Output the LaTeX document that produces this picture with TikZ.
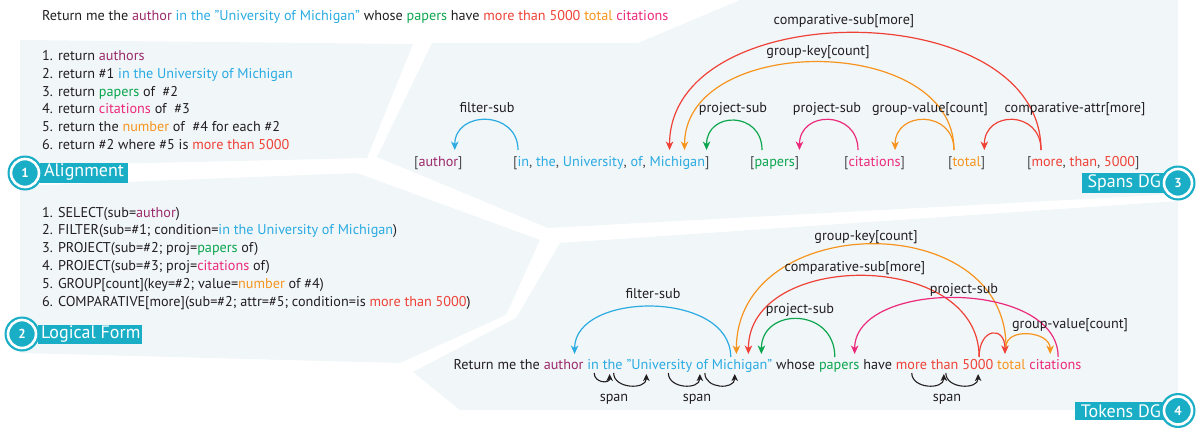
\documentclass[tikz,border=0pt]{standalone}
\usepackage{fontspec}
\setmainfont{PT Sans}
\usetikzlibrary{arrows.meta,calc}
\definecolor{cAuth}{HTML}{9C2A6B}
\definecolor{cBlue}{HTML}{2AABE2}
\definecolor{cGreen}{HTML}{0BA64E}
\definecolor{cPink}{HTML}{EC2A7B}
\definecolor{cOrange}{HTML}{F7941D}
\definecolor{cRed}{HTML}{EF4136}
\definecolor{cTeal}{HTML}{1AAEC6}
\definecolor{cBg}{HTML}{F1F6F9}
\definecolor{cInk}{HTML}{231F20}
\definecolor{cBr}{HTML}{4D4D4F}
\newcommand{\fs}{\fontsize{14.2}{16}\selectfont}
\newcommand{\cA}[1]{\textcolor{cAuth}{#1}}
\newcommand{\cB}[1]{\textcolor{cBlue}{#1}}
\newcommand{\cG}[1]{\textcolor{cGreen}{#1}}
\newcommand{\cP}[1]{\textcolor{cPink}{#1}}
\newcommand{\cO}[1]{\textcolor{cOrange}{#1}}
\newcommand{\cR}[1]{\textcolor{cRed}{#1}}
\newcommand{\br}[1]{\textcolor{cBr}{#1}}
\begin{document}
\begin{tikzpicture}[x=1pt,y=-1pt,
  txt/.style={anchor=base west, inner sep=0, font=\fs, text=cInk},
  lbl/.style={anchor=base, inner sep=0, font=\fs, text=cInk},
  panel/.style={fill=cBg, draw=none},
  arc/.style={line width=1.2pt, -{Stealth[length=8.5pt,width=7.5pt,inset=2.5pt]}},
  spanarc/.style={cInk, line width=1.1pt, -{Stealth[length=7pt,width=6.5pt,inset=2pt]}},
  badgebar/.style={fill=cTeal, draw=none},
  badgetext/.style={inner sep=0, font=\fontsize{18}{20}\selectfont, text=white},
  badgenum/.style={circle, fill=cTeal, inner sep=0, minimum size=23pt, font=\fontsize{13}{14}\selectfont\bfseries, text=white},
  badgering/.style={circle, fill=cTeal, draw=white, line width=2.6pt, inner sep=0, minimum size=28pt}
]
\useasboundingbox (0,0) rectangle (1199,428);
% panels
\fill[panel] (20,40) -- (413,44) -- (367,158) -- (20,166) -- cycle;
\fill[panel] (20,186) -- (357,173) -- (540,240) -- (506,315) -- (400,363) -- (20,353) -- cycle;
\fill[panel] (432,43) -- (638,43) -- (740,0) -- (1178,0) -- (1178,194) -- (548,228) -- (377,157) -- cycle;
\fill[panel] (560,243) -- (1178,201) -- (1178,410) -- (460,410) -- (413,372) -- (516,318) -- cycle;

% question
\node[txt] (q) at (42,21) {Return me the \cA{author} \cB{in the "University of Michigan"} whose \cG{papers} have \cR{more than 5000} \cO{total} \cP{citations}};

% alignment
\node[txt] (a1) at (42,61) {1. return \cA{authors}};
\node[txt] (a2) at (42,78.6) {2. return \#1 \cB{in the University of Michigan}};
\node[txt] (a3) at (42,96.2) {3. return \cG{papers} of~~\#2};
\node[txt] (a4) at (42,113.8) {4. return \cP{citations} of~~\#3};
\node[txt] (a5) at (42,131.4) {5. return the \cO{number} of~~\#4 for each \#2};
\node[txt] (a6) at (42,149) {6. return \#2 where \#5 is \cR{more than 5000}};

% logical form
\node[txt] (l1) at (42,217) {1. SELECT(sub=\cA{author})};
\node[txt] (l2) at (42,234.8) {2. FILTER(sub=\#1; condition=\cB{in the University of Michigan})};
\node[txt] (l3) at (42,252.6) {3. PROJECT(sub=\#2; proj=\cG{papers} of)};
\node[txt] (l4) at (42,270.4) {4. PROJECT(sub=\#3; proj=\cP{citations} of)};
\node[txt] (l5) at (42,288.2) {5. GROUP[count](key=\#2; value=\cO{number} of \#4)};
\node[txt] (l6) at (42,306) {6. COMPARATIVE[more](sub=\#2; attr=\#5; condition=is \cR{more than 5000})};

% spans DG
\node[txt] (s1) at (414,166) {\br{[}\cA{author}\br{]}};
\node[txt] (s2) at (513,166) {\br{[}\cB{in}\br{,} \cB{the}\br{,} \cB{University}\br{,} \cB{of}\br{,} \cB{Michigan}\br{]}};
\node[txt] (s3) at (750,166) {\br{[}\cG{papers}\br{]}};
\node[txt] (s4) at (844,166) {\br{[}\cP{citations}\br{]}};
\node[txt] (s5) at (948,166) {\br{[}\cO{total}\br{]}};
\node[txt] (s6) at (1027,166) {\br{[}\cR{more}\br{,} \cR{than}\br{,} \cR{5000}\br{]}};

\draw[arc,cBlue] ($(s2.base west)+(5,-16)$) .. controls +(0,-40) and +(0,-40) .. ($(s1.base east)+(-8,-16)$);
\draw[arc,cGreen] ($(s3.base west)+(12,-16)$) .. controls +(0,-39) and +(0,-39) .. ($(s2.base east)+(-3,-16)$);
\draw[arc,cPink] ($(s4.base west)+(14,-16)$) .. controls +(0,-40) and +(0,-40) .. ($(s3.base east)+(0,-16)$);
\draw[arc,cOrange] ($(s5.base west)+(6,-16)$) .. controls +(0,-40) and +(0,-40) .. ($(s4.base east)+(-10,-16)$);
\draw[arc,cRed] ($(s6.base west)+(14,-16)$) .. controls +(0,-40) and +(0,-40) .. ($(s5.base east)+(-1,-16)$);
\draw[arc,cOrange] ($(s5.base west)+(6,-16)$) .. controls +(0,-117) and +(0,-117) .. ($(s2.base east)+(-25,-16)$);
\draw[arc,cRed] ($(s6.base west)+(14,-16)$) .. controls +(0,-156) and +(0,-156) .. ($(s2.base east)+(-40,-16)$);

\node[lbl] (ls1) at (487,112) {filter-sub};
\node[lbl] (ls2) at (733,112) {project-sub};
\node[lbl] (ls3) at (827,112) {project-sub};
\node[lbl] (ls4) at (930,112) {group-value[count]};
\node[lbl] (ls5) at (1075,112) {comparative-attr[more]};
\node[lbl] (ls6) at (818,56) {group-key[count]};
\node[lbl] (ls7) at (844,25) {comparative-sub[more]};

% tokens DG
\node[txt] (t1) at (453.5,369) {Return me the};
\node[txt] (t2) at ($(t1.base east)+(3.5,0)$) {\cA{author}};
\node[txt] (t3) at ($(t2.base east)+(3.5,0)$) {\cB{in}};
\node[txt] (t4) at ($(t3.base east)+(3.5,0)$) {\cB{the}};
\node[txt] (t5) at ($(t4.base east)+(3.5,0)$) {\cB{"University}};
\node[txt] (t6) at ($(t5.base east)+(3.5,0)$) {\cB{of}};
\node[txt] (t7) at ($(t6.base east)+(3.5,0)$) {\cB{Michigan"}};
\node[txt] (t8) at ($(t7.base east)+(3.5,0)$) {whose};
\node[txt] (t9) at ($(t8.base east)+(3.5,0)$) {\cG{papers}};
\node[txt] (t10) at ($(t9.base east)+(3.5,0)$) {have};
\node[txt] (t11) at ($(t10.base east)+(3.5,0)$) {\cR{more}};
\node[txt] (t12) at ($(t11.base east)+(3.5,0)$) {\cR{than}};
\node[txt] (t13) at ($(t12.base east)+(3.5,0)$) {\cR{5000}};
\node[txt] (t14) at ($(t13.base east)+(3.5,0)$) {\cO{total}};
\node[txt] (t15) at ($(t14.base east)+(3.5,0)$) {\cP{citations}};

\draw[arc,cBlue] ($(t7.base west)+(19,-12)$) .. controls +(0,-67) and +(0,-63) .. ($(t2.base west)+(31,-15)$);
\draw[arc,cOrange] ($(t14.base west)+(9,-22)$) .. controls +(0,-140) and +(0,-143) .. ($(t7.base east)+(-36,-15)$);
\draw[arc,cRed] ($(t13.base west)+(17,-12)$) .. controls +(0,-108) and +(0,-104) .. ($(t7.base east)+(-24,-15)$);
\draw[arc,cGreen] ($(t9.base west)+(16,-12)$) .. controls +(0,-50) and +(0,-47) .. ($(t7.base east)+(-11,-15)$);
\draw[arc,cPink] ($(t15.base west)+(29,-12)$) .. controls +(0,-78) and +(0,-75) .. ($(t9.base east)+(-5,-15)$);
\draw[arc,cOrange] ($(t14.base west)+(9,-22)$) .. controls +(0,-20) and +(0,-23) .. ($(t15.base west)+(21,-15)$);
\draw[arc,cRed] ($(t13.base west)+(17,-12)$) .. controls +(0,-29) and +(0,-29) .. ($(t14.base west)+(8,-15)$);

\draw[spanarc] ($(t3.base west)+(7,4)$) .. controls +(0,10) and +(0,10) .. ($(t4.base west)+(7,5)$);
\draw[spanarc] ($(t4.base west)+(11,4)$) .. controls +(0,16) and +(0,16) .. ($(t5.base west)+(20,5)$);
\draw[spanarc] ($(t5.base west)+(42,4)$) .. controls +(0,16) and +(0,16) .. ($(t6.base west)+(4,5)$);
\draw[spanarc] ($(t6.base west)+(9,4)$) .. controls +(0,16) and +(0,16) .. ($(t7.base west)+(23,5)$);
\draw[spanarc] ($(t11.base west)+(16,4)$) .. controls +(0,16) and +(0,16) .. ($(t12.base west)+(13,5)$);
\draw[spanarc] ($(t12.base west)+(15,4)$) .. controls +(0,16) and +(0,16) .. ($(t13.base west)+(16,5)$);

\node[lbl] (lt1) at (653,298) {filter-sub};
\node[lbl] (lt2) at (800,313) {project-sub};
\node[lbl] (lt3) at (855,271) {comparative-sub[more]};
\node[lbl] (lt4) at (866,240) {group-key[count]};
\node[lbl] (lt5) at (964,293) {project-sub};
\node[lbl] (lt6) at (1070,328) {group-value[count]};
\node[lbl] (sp1) at (614,401) {span};
\node[lbl] (sp2) at (697,401) {span};
\node[lbl] (sp3) at (947,401) {span};

% badges
\fill[badgebar] (40,163) rectangle (128,182.5);
\node[badgetext, anchor=west] (b1t) at (44,172.5) {Alignment};
\fill[cTeal] (25,173) circle (17.5);
\node[badgering] (b1r) at (25,173) {};
\node[badgenum] (b1) at (25,173) {1};

\fill[badgebar] (38,325) rectangle (142,344);
\node[badgetext, anchor=west] (b2t) at (41,334.5) {Logical Form};
\fill[cTeal] (22,334) circle (17.5);
\node[badgering] (b2r) at (22,334) {};
\node[badgenum] (b2) at (22,334) {2};

\fill[badgebar] (1082,173) rectangle (1170,193);
\node[badgetext, anchor=east] (b3t) at (1161,183) {Spans DG};
\fill[cTeal] (1178,183) circle (17.5);
\node[badgering] (b3r) at (1178,183) {};
\node[badgenum] (b3) at (1178,183) {3};

\fill[badgebar] (1075,402) rectangle (1170,420);
\node[badgetext, anchor=east] (b4t) at (1161,411) {Tokens DG};
\fill[cTeal] (1178,410.5) circle (17.5);
\node[badgering] (b4r) at (1178,410.5) {};
\node[badgenum] (b4) at (1178,410.5) {4};
\end{tikzpicture}
\end{document}
